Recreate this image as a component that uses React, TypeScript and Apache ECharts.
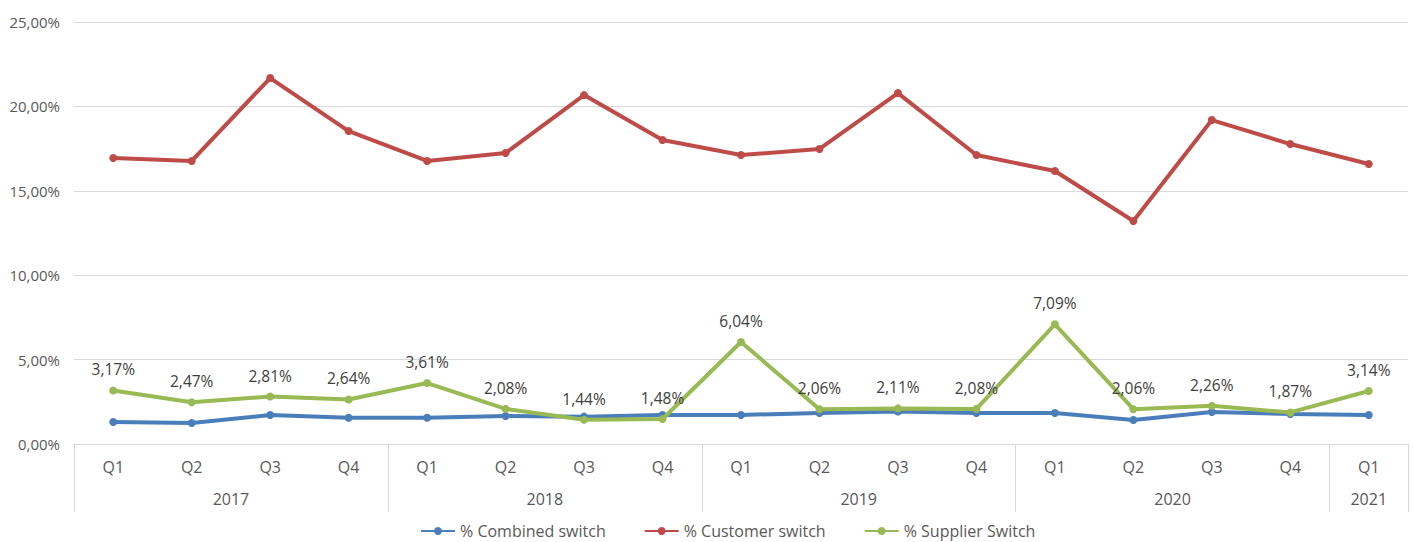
import React, { useEffect, useRef } from "react";
import * as echarts from "echarts";

const quarters = ["Q1","Q2","Q3","Q4","Q1","Q2","Q3","Q4","Q1","Q2","Q3","Q4","Q1","Q2","Q3","Q4","Q1"];
const combined = [1.30, 1.24, 1.72, 1.56, 1.56, 1.66, 1.62, 1.72, 1.72, 1.84, 1.93, 1.84, 1.84, 1.42, 1.90, 1.78, 1.72];
const customer = [16.94, 16.77, 21.68, 18.54, 16.77, 17.24, 20.67, 18.01, 17.12, 17.48, 20.79, 17.12, 16.17, 13.21, 19.19, 17.77, 16.59];
const supplier = [3.17, 2.47, 2.81, 2.64, 3.61, 2.08, 1.44, 1.48, 6.04, 2.06, 2.11, 2.08, 7.09, 2.06, 2.26, 1.87, 3.14];
// year slots on a half-quarter grid (35 boundary positions)
const yearLabels: Record<number, string> = { 4: "2017", 12: "2018", 20: "2019", 28: "2020", 33: "2021" };
const yearBounds = [0, 8, 16, 24, 32, 34];
const yearSlots = Array.from({ length: 35 }, (_, i) => yearLabels[i] || "");

const fmt = (v: number) => v.toFixed(2).replace(".", ",") + "%";
const FONT = "Open Sans";

export default function App() {
  const ref = useRef<HTMLDivElement>(null);
  useEffect(() => {
    document.body.style.margin = "0";
    const chart = echarts.init(ref.current!, null, { renderer: "svg" });
    const mk = (name: string, data: number[], color: string, labels: boolean) => ({
      name,
      type: "line",
      data,
      xAxisIndex: 0,
      symbol: "circle",
      symbolSize: 8,
      lineStyle: { width: 4, color },
      itemStyle: { color },
      label: labels
        ? { show: true, position: "top", distance: 9, formatter: (p: any) => fmt(p.value), color: "#404040", fontSize: 15.5, fontFamily: FONT }
        : { show: false },
      z: name === "% Supplier Switch" ? 3 : 2,
    });
    chart.setOption({
      animation: false,
      textStyle: { fontFamily: FONT },
      grid: { left: 74, right: 5, top: 22, bottom: 98 },
      legend: {
        top: 522,
        left: 415,
        itemWidth: 34,
        itemHeight: 10,
        itemGap: 38,
        padding: [0, 5, 0, 5],
        textStyle: { color: "#595959", fontSize: 16, lineHeight: 18, fontFamily: FONT },
        data: ["% Combined switch", "% Customer switch", "% Supplier Switch"],
      },
      xAxis: [
        {
          type: "category",
          data: quarters,
          boundaryGap: true,
          axisLine: { show: true, lineStyle: { color: "#d9d9d9", width: 1 } },
          axisTick: { show: false },
          axisLabel: { color: "#595959", fontSize: 16, margin: 15, fontFamily: FONT },
        },
        {
          type: "category",
          data: yearSlots,
          position: "bottom",
          boundaryGap: false,
          axisLine: { show: false },
          axisTick: {
            show: true,
            length: 68,
            interval: (i: number) => yearBounds.includes(i),
            lineStyle: { color: "#d9d9d9", width: 1 },
          },
          axisLabel: {
            show: true,
            interval: (i: number) => yearLabels[i] !== undefined,
            color: "#595959",
            fontSize: 16,
            margin: 47,
            fontFamily: FONT,
          },
        },
      ],
      yAxis: {
        type: "value",
        min: 0,
        max: 25,
        interval: 5,
        axisLine: { show: false },
        axisTick: { show: false },
        splitLine: { lineStyle: { color: "#d9d9d9", width: 1 } },
        axisLabel: { color: "#595959", fontSize: 15, margin: 14, formatter: (v: number) => fmt(v), fontFamily: FONT },
      },
      series: [
        mk("% Combined switch", combined, "#4a7ebb", false),
        mk("% Customer switch", customer, "#be4b48", false),
        mk("% Supplier Switch", supplier, "#98b954", true),
      ],
    });
    return () => chart.dispose();
  }, []);
  return <div ref={ref} style={{ width: 1413, height: 542 }} />;
}
